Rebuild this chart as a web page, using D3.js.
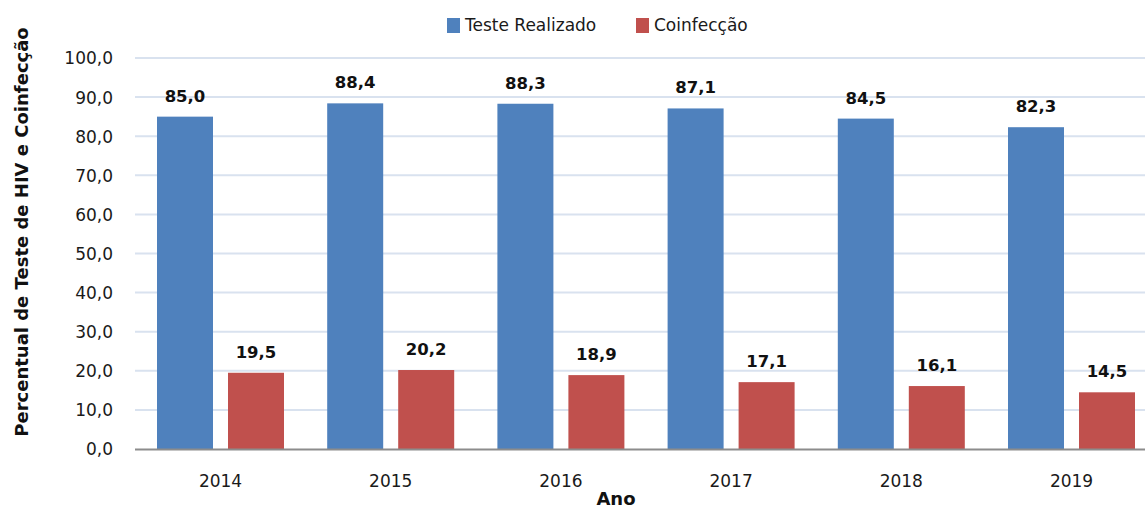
<!DOCTYPE html>
<html><head><meta charset="utf-8">
<script src="https://cdn.jsdelivr.net/npm/d3@7"></script>
<style>body{margin:0;background:#fff;} svg{display:block;}</style>
</head><body>
<svg id="c" width="1145" height="508"></svg>
<script>
const years = ["2014","2015","2016","2017","2018","2019"];
const seriesNames = ["Teste Realizado","Coinfecção"];
const testeRealizado = [85.0, 88.4, 88.3, 87.1, 84.5, 82.3];
const coinfeccao = [19.5, 20.2, 18.9, 17.1, 16.1, 14.5];
const yTicks = [0,10,20,30,40,50,60,70,80,90,100];
const colors = ["#4F81BD","#C0504D"];

(function(){
const svg = d3.select("#c");
const font = "DejaVu Sans, Verdana, sans-serif";
const fmt = v => v.toFixed(1).replace(".", ",");

const pL = 135.4, pR = 1156.6, pT = 58, pB = 449;
const y = d3.scaleLinear().domain([0,100]).range([pB, pT]);
const x0 = d3.scaleBand().domain(years).range([pL, pR]).paddingInner(0).paddingOuter(0);
const x1 = d3.scaleBand().domain(seriesNames).range([21.6, 148.6]).paddingInner(15/71).paddingOuter(0);

// gridlines
svg.append("g").selectAll("line").data(yTicks.filter(t => t > 0)).join("line")
  .attr("x1", 135).attr("x2", 1145)
  .attr("y1", d => y(d)).attr("y2", d => y(d))
  .attr("stroke", "#D9E2EF").attr("stroke-width", 2);

// y axis labels
const yAxis = d3.axisLeft(y).tickValues(yTicks).tickFormat(fmt).tickSize(0).tickPadding(0);
const gy = svg.append("g").attr("transform", "translate(113,0)").call(yAxis);
gy.select(".domain").remove();
gy.selectAll("text").attr("font-family", font).attr("font-size", 17).attr("fill", "#1a1a1a").attr("dy", "0.35em");

// bars
const data = years.map((yr, i) => ({year: yr, values: [testeRealizado[i], coinfeccao[i]]}));
const groups = svg.append("g").selectAll("g").data(data).join("g")
  .attr("transform", d => `translate(${x0(d.year)},0)`);
groups.selectAll("rect").data(d => d.values.map((v, j) => ({name: seriesNames[j], v, j}))).join("rect")
  .attr("x", d => x1(d.name)).attr("width", x1.bandwidth())
  .attr("y", d => y(d.v)).attr("height", d => y(0) - y(d.v))
  .attr("fill", d => colors[d.j]);
groups.selectAll("text").data(d => d.values.map((v, j) => ({name: seriesNames[j], v, j}))).join("text")
  .attr("x", d => x1(d.name) + x1.bandwidth()/2).attr("y", d => y(d.v) - 15)
  .attr("text-anchor", "middle").attr("font-family", font).attr("font-weight", "bold")
  .attr("font-size", 16.5).attr("fill", "#111").text(d => fmt(d.v));

// x axis
svg.append("line").attr("x1", 135).attr("x2", 1145).attr("y1", pB + 0.5).attr("y2", pB + 0.5)
  .attr("stroke", "#8C8C8C").attr("stroke-width", 2);
const xAxis = d3.axisBottom(x0).tickSize(0).tickPadding(0);
const gx = svg.append("g").attr("transform", `translate(0,${pB})`).call(xAxis);
gx.select(".domain").remove();
gx.selectAll("text").attr("font-family", font).attr("font-size", 17).attr("fill", "#1a1a1a")
  .attr("dy", null).attr("y", 38);

// axis titles
svg.append("text").attr("x", 616).attr("y", 505).attr("text-anchor", "middle")
  .attr("font-family", font).attr("font-weight", "bold").attr("font-size", 18).attr("fill", "#111").text("Ano");
svg.append("text").attr("transform", "translate(28,232) rotate(-90)").attr("text-anchor", "middle")
  .attr("font-family", font).attr("font-weight", "bold").attr("font-size", 18).attr("fill", "#111")
  .text("Percentual de Teste de HIV e Coinfecção");

// legend
const legendX = [447, 636];
const lg = svg.append("g").selectAll("g").data(seriesNames).join("g")
  .attr("transform", (d, i) => `translate(${legendX[i]},18)`);
lg.append("rect").attr("width", 13).attr("height", 15).attr("fill", (d, i) => colors[i]);
lg.append("text").attr("x", 18).attr("y", 13).attr("font-family", font).attr("font-size", 17)
  .attr("fill", "#1a1a1a").text(d => d);
})();
</script>
</body></html>
